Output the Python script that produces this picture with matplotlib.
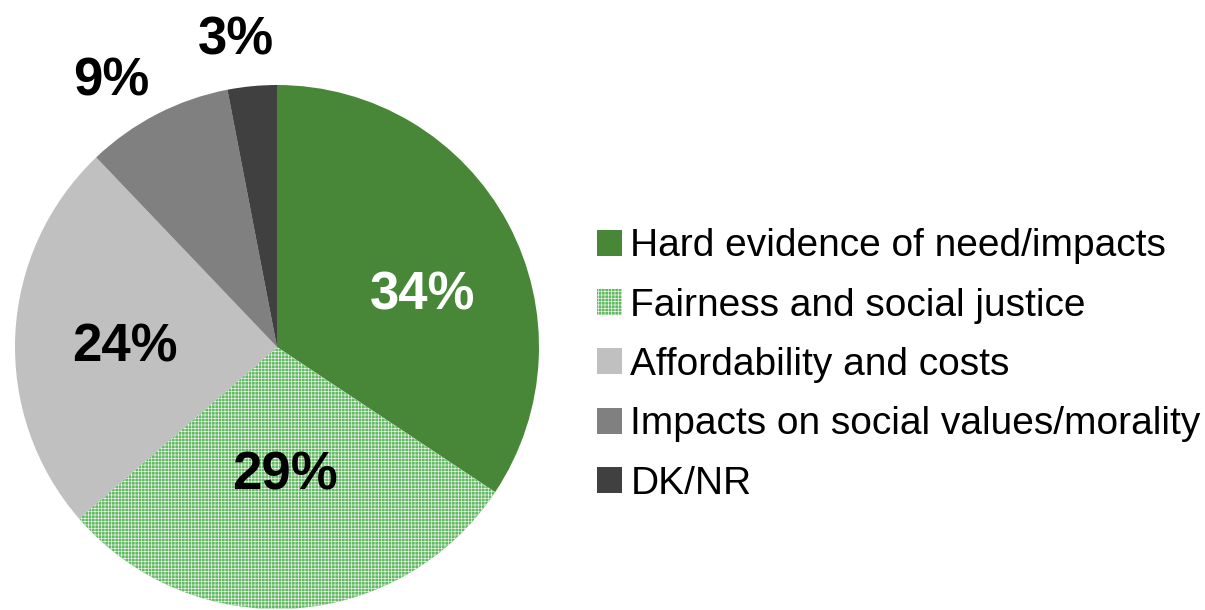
import matplotlib
matplotlib.use("Agg")
import matplotlib.pyplot as plt
import numpy as np

categories = [
    "Hard evidence of need/impacts",
    "Fairness and social justice",
    "Affordability and costs",
    "Impacts on social values/morality",
    "DK/NR",
]
shares = [34, 29, 24, 9, 3]
pct_labels = ["34%", "29%", "24%", "9%", "3%"]

colors = ["#488737", "#62b962", "#c0c0c0", "#808080", "#404040"]
label_colors = ["white", "black", "black", "black", "black"]
label_radius = [0.60, 0.46, 0.58, 1.22, 1.21]
label_angle_shift = [-6, 0, 0, 4, 2]

plt.rcParams["hatch.linewidth"] = 0.5

W, H = 1205, 610
fig = plt.figure(figsize=(W / 100, H / 100), dpi=100)
cx, cy, r = 277, 610 - 347, 262
ax = fig.add_axes([(cx - r) / W, (cy - r) / H, 2 * r / W, 2 * r / H])

wedges, _ = ax.pie(shares, colors=colors, startangle=90, counterclock=False,
                   radius=1.0, wedgeprops=dict(linewidth=0, edgecolor="none"))
# fine checker texture on the fairness slice
wedges[1].set_edgecolor("#e8f5e8")
wedges[1].set_linewidth(0)
wedges[1].set_hatch("+++++")

ax.set_xlim(-1, 1)
ax.set_ylim(-1, 1)
ax.set_aspect("equal")
ax.axis("off")

total = sum(shares)
start = 90.0
for w, lab, col, rad, sh in zip(shares, pct_labels, label_colors, label_radius, label_angle_shift):
    span = w / total * 360
    mid = np.deg2rad(start - span / 2 + sh)
    start -= span
    ax.text(rad * np.cos(mid), rad * np.sin(mid) - 0.03, lab, ha="center", va="center",
            fontsize=38, fontweight="bold", color=col, family="Liberation Sans",
            clip_on=False)

fig.legend(wedges, categories, loc="center left",
           bbox_to_anchor=(597 / W, (610 - 365) / H),
           frameon=False, prop=dict(family="Liberation Sans", size=28),
           handlelength=0.64, handleheight=0.64, handletextpad=0.22,
           labelspacing=0.6, borderpad=0, borderaxespad=0)

fig.savefig("out.png", dpi=100)
